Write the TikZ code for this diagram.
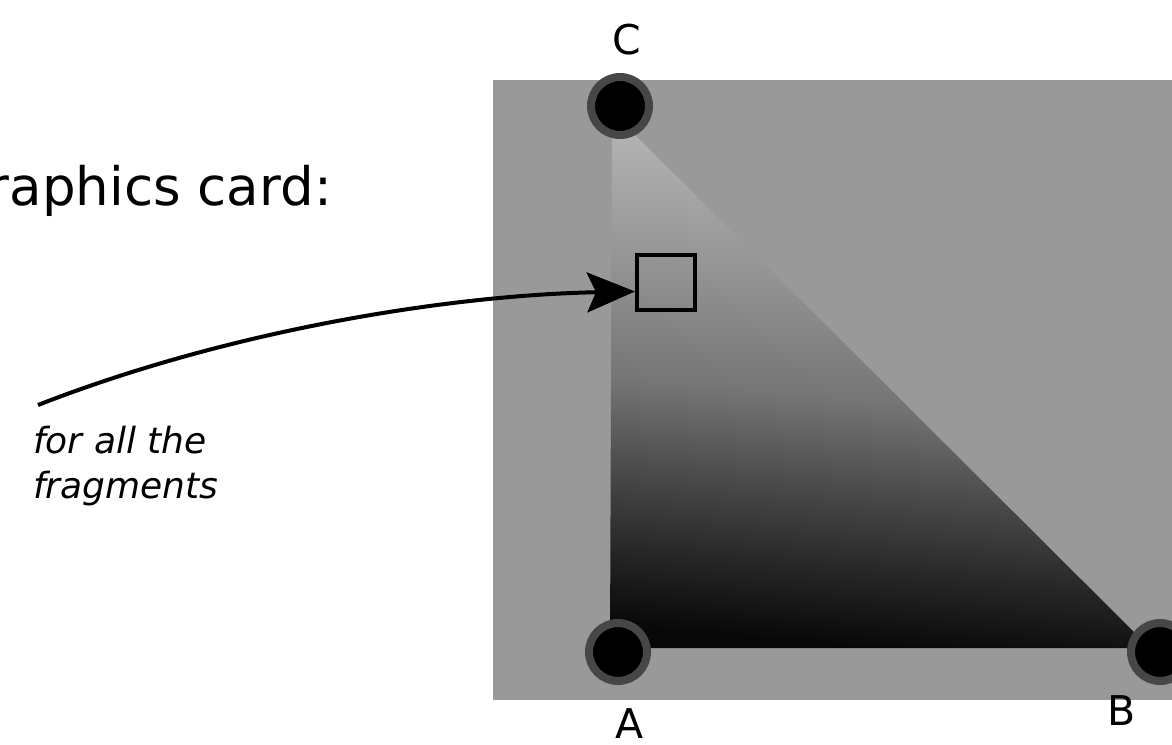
\documentclass[tikz,border=0pt]{standalone}
\usepackage{fontspec}
\setmainfont{DejaVu Sans}
\usetikzlibrary{positioning, arrows.meta}

\definecolor{screengray}{HTML}{999999}
\definecolor{ringgray}{HTML}{474747}
\pgfdeclareverticalshading{raster}{100bp}{
  color(0bp)=(black!97); color(25bp)=(black!97); color(32bp)=(black!85);
  color(40bp)=(black!70); color(48bp)=(black!54); color(59bp)=(black!42);
  color(75bp)=(black!26); color(100bp)=(black!26)}

\begin{document}
\begin{tikzpicture}[x=1pt, y=-1pt,
      vertex/.style={circle, draw=ringgray, fill=black, line width=8pt,
        minimum size=58pt, inner sep=0pt},
      lbl/.style={inner sep=0pt, font=\fontsize{41}{49}\selectfont},
      pixel/.style={draw, line width=4pt, minimum width=58pt,
        minimum height=55pt, inner sep=0pt},
      >={Stealth[length=48pt, width=40pt, inset=9pt]}, node distance=18pt]
    \useasboundingbox (0,0) rectangle (1172,744);
    % screen and the rasterised triangle
    \fill[screengray] (493,80) rectangle (1190,700);
    \shade[shading=raster, shading angle=-5]
      (610,648) -- (1150,648) -- (612,112) -- cycle;
    \node[pixel] (frag) at (666,282.5) {};
    \coordinate (start) at (38,405);
    \draw[->, line width=4pt] (start) .. controls (230,330) and (450,295) .. ([yshift=-9pt]frag.west);
    % vertices
    \node[vertex] (C) at (620,106) {};
    \node[vertex] (A) at (618,652) {};
    \node[vertex] (B) at (1160,652) {};
    \node[lbl, above=18pt of C, xshift=7pt] (lc) {C};
    \node[lbl, below=23pt of A, xshift=12pt] (la) {A};
    \node[lbl, below=10pt of B, xshift=-38pt] (lb) {B};
    % texts
    \node[anchor=base east, inner sep=0pt, font=\fontsize{53}{60}\selectfont]
      (title) at (332,205) {raphics card:};
    \node[anchor=north west, inner sep=0pt, align=left,
      font=\itshape\fontsize{36}{45}\selectfont] (note) at (33,426)
      {for all the\\fragments};
  \end{tikzpicture}
\end{document}
